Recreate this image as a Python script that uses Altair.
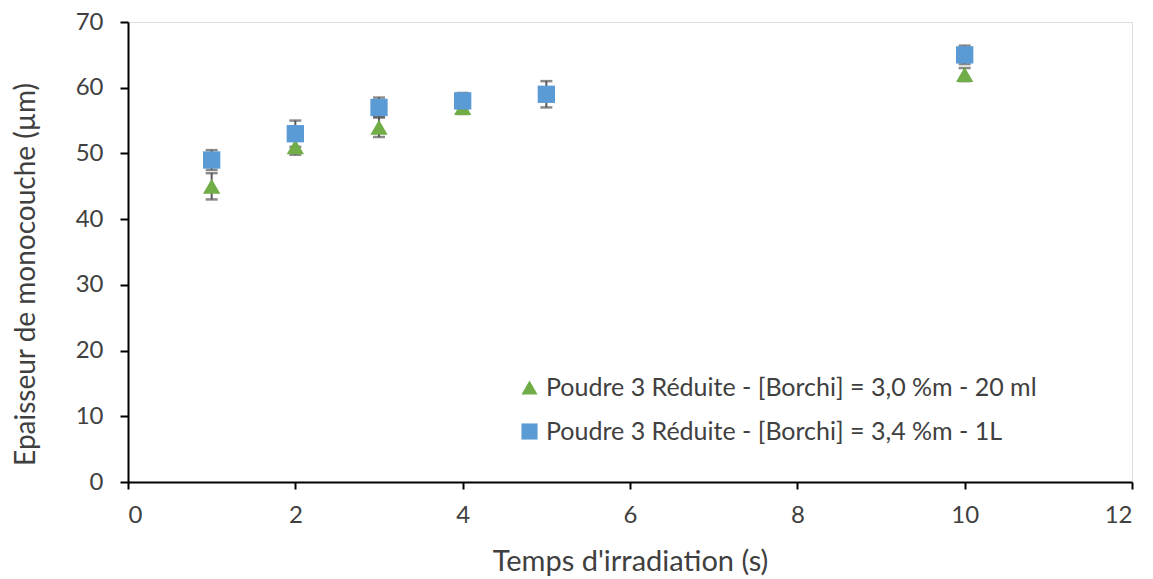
import altair as alt
import pandas as pd

series_names = [
    "Poudre 3 Réduite - [Borchi] = 3,0 %m - 20 ml",
    "Poudre 3 Réduite - [Borchi] = 3,4 %m - 1L",
]
x_tri = [1, 2, 3, 4, 10]
y_tri = [45, 51, 54, 57, 62]
e_tri = [2, 1.2, 1.5, 1, 1]
x_sq = [1, 2, 3, 4, 5, 10]
y_sq = [49, 53, 57, 58, 59, 65]
e_sq = [1.5, 2, 1.5, 1.2, 2, 1.4]
colors = ["#70AD47", "#5B9BD5"]
shapes = ["triangle-up", "square"]

rows = []
for x, y, e in zip(x_tri, y_tri, e_tri):
    rows.append({"t": x, "v": y, "lo": y - e, "hi": y + e, "s": series_names[0]})
for x, y, e in zip(x_sq, y_sq, e_sq):
    rows.append({"t": x, "v": y, "lo": y - e, "hi": y + e, "s": series_names[1]})
df = pd.DataFrame(rows)

FONT = "Lato"
TXT = "#404040"

xs = alt.Scale(domain=[0, 12], nice=False)
ys = alt.Scale(domain=[0, 70], nice=False)

xax = alt.Axis(values=list(range(0, 13, 2)), format="d", title="Temps d'irradiation (s)", grid=False,
               domainColor="black", domainWidth=2, tickColor="black", tickWidth=2, tickSize=7,
               labelFontSize=24, labelColor=TXT, labelFont=FONT, labelPadding=14,
               titleFontSize=29, titleColor=TXT, titleFont=FONT, titleFontWeight="normal",
               titlePadding=20)
yax = alt.Axis(values=list(range(0, 71, 10)), format="d", title="Epaisseur de monocouche (µm)", grid=False,
               domainColor="black", domainWidth=2, tickColor="black", tickWidth=2, tickSize=8,
               labelFontSize=24, labelColor=TXT, labelFont=FONT, labelPadding=17,
               titleFontSize=28, titleColor=TXT, titleFont=FONT, titleFontWeight="normal",
               titleY=252, titleX=-88)

base = alt.Chart(df)

xenc = alt.X("t:Q", scale=xs, axis=xax)

rules = base.mark_rule(color="#595959", strokeWidth=2).encode(
    x=xenc, y=alt.Y("lo:Q", scale=ys, axis=yax), y2="hi:Q")
cap_lo = base.mark_tick(color="#595959", thickness=2.5, size=12, orient="horizontal").encode(
    x="t:Q", y=alt.Y("lo:Q", scale=ys))
cap_hi = base.mark_tick(color="#595959", thickness=2.5, size=12, orient="horizontal").encode(
    x="t:Q", y=alt.Y("hi:Q", scale=ys))

pts = base.mark_point(filled=True, opacity=1, size=300).encode(
    x="t:Q",
    y=alt.Y("v:Q", scale=ys),
    color=alt.Color("s:N", scale=alt.Scale(domain=series_names, range=colors),
                    legend=alt.Legend(title=None, orient="none", legendX=389, legendY=353,
                                      labelFontSize=25, labelFont=FONT, labelColor=TXT,
                                      symbolSize=260, rowPadding=18, labelLimit=0,
                                      symbolOpacity=1)),
    shape=alt.Shape("s:N", scale=alt.Scale(domain=series_names, range=shapes)),
    order=alt.Order("s:N"),
)

chart = alt.layer(rules, cap_lo, cap_hi, pts).properties(
    width=1004, height=460,
    autosize=alt.AutoSizeParams(type="none"),
    padding={"left": 120, "top": 14, "right": 13, "bottom": 97},
).configure_view(stroke="black", strokeWidth=2).configure(background="white")

chart.save("out.html", embed_options={"renderer": "svg", "actions": False})
